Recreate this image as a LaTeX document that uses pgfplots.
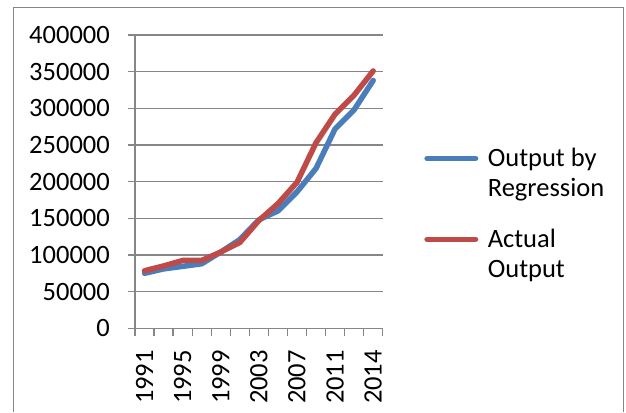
\documentclass[border=0pt]{standalone}
\usepackage{pgfplots}
\pgfplotsset{compat=1.18}
\usepackage{fontspec}
\setmainfont{Carlito}
\definecolor{serblue}{HTML}{4A7EBB}
\definecolor{serred}{HTML}{BE4B48}
\definecolor{gridgray}{HTML}{868686}
\begin{document}
\begin{tikzpicture}
\path[use as bounding box] (0pt,0pt) rectangle (626pt,412pt);
\draw[gridgray, line width=1pt] (13pt,0pt) -- (13pt,404pt) -- (623pt,404pt) -- (623pt,0pt);
\begin{axis}[
  at={(135pt,83.7pt)}, anchor=south west,
  scale only axis, width=247.7pt, height=293.3pt,
  xmin=0.5, xmax=13.5, ymin=0, ymax=400000,
  axis x line*=bottom, axis y line*=left,
  axis line style={gridgray, line width=1.3pt, -},
  xtick={1,3,5,7,9,11,13},
  xticklabels={1991,1995,1999,2003,2007,2011,2014},
  minor xtick={0.5,1.5,...,13.5},
  every major x tick/.style={draw=none},
  every minor x tick/.style={gridgray, line width=1.3pt},
  every major y tick/.style={gridgray, line width=1.3pt},
  minor tick length=8pt,
  major tick length=7pt,
  tick align=outside,
  ytick={0,50000,...,400000},
  ymajorgrids, grid style={gridgray, line width=1.3pt},
  scaled y ticks=false,
  tick label style={font=\fontsize{26.5}{31}\selectfont, inner sep=0pt,
    /pgf/number format/assume math mode=true,
    /pgf/number format/fixed, /pgf/number format/1000 sep={}},
  xticklabel style={rotate=90, anchor=east},
  yticklabel style={anchor=east},
  xticklabel shift=14.7pt,
  yticklabel shift=18pt,
  legend style={draw=none, fill=none, inner sep=0pt, outer sep=0pt,
    at={(1.168,0.39)}, anchor=west,
    row sep=31pt, column sep=9.5pt,
    nodes={inner sep=0pt, align=left, font=\fontsize{26.5}{30}\selectfont}},
  legend cell align=left,
  legend image code/.code={\draw[#1, line cap=round] (0pt,15pt) -- (48.5pt,15pt);},
]
\addplot[serblue, line width=5.5pt, line join=round, line cap=round] coordinates {
  (1,75000) (2,81000) (3,84500) (4,88000) (5,104000) (6,121000) (7,148000)
  (8,160000) (9,186000) (10,218000) (11,272000) (12,298000) (13,338000)};
\addlegendentry{Output by\\Regression}
\addplot[serred, line width=5.5pt, line join=round, line cap=round] coordinates {
  (1,78500) (2,85000) (3,92500) (4,92500) (5,104000) (6,117000) (7,147000)
  (8,170000) (9,199000) (10,253000) (11,292000) (12,318000) (13,351000)};
\addlegendentry{Actual\\Output}
\end{axis}
\end{tikzpicture}
\end{document}
